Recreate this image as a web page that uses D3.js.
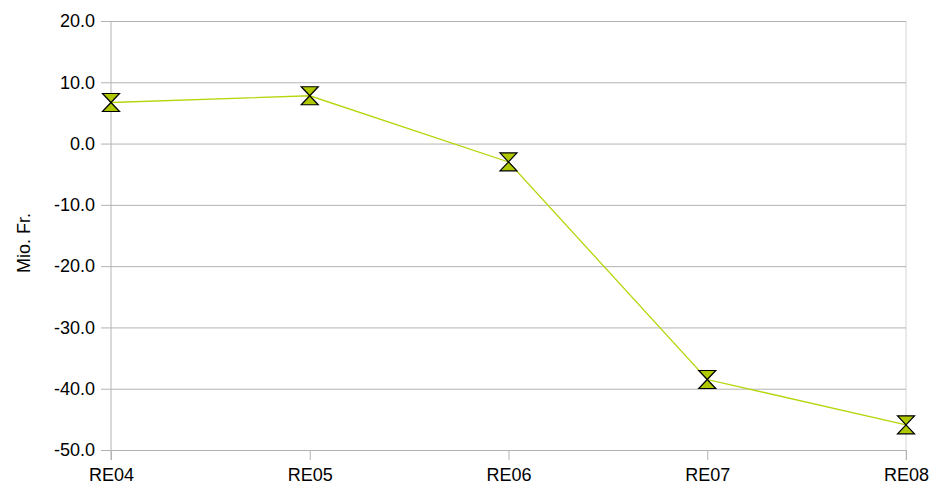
<!DOCTYPE html>
<html>
<head>
<meta charset="utf-8">
<script src="https://cdn.jsdelivr.net/npm/d3@7"></script>
<style>
  html, body { margin: 0; padding: 0; background: #fff; }
  svg { display: block; font-family: "Liberation Sans", Arial, sans-serif; }
</style>
</head>
<body>
<svg id="chart" width="930" height="486"></svg>
<script>
// Annual results by budget year
const categories = ["RE04", "RE05", "RE06", "RE07", "RE08"];
const values = [6.7, 7.8, -3.0, -38.5, -45.9];
const yTicks = [20, 10, 0, -10, -20, -30, -40, -50];
const yTitle = "Mio. Fr.";

const svg = d3.select("#chart");
const margin = { left: 111, right: 24, top: 21, bottom: 36 };
const W = 930, H = 486;

const x = d3.scalePoint().domain(categories).range([margin.left, W - margin.right]).padding(0);
const y = d3.scaleLinear().domain([-50, 20]).range([H - margin.bottom, margin.top]);

const gridColor = "#b3b3b3";
// plain hyphen for negatives, one decimal
const fmt = d => d.toFixed(1);

// right edge line
svg.append("line")
  .attr("x1", W - margin.right).attr("x2", W - margin.right)
  .attr("y1", y(20)).attr("y2", y(-50) + 10)
  .attr("stroke", "#d4d4d4");

// horizontal gridlines with short ticks left of the axis
const yAxis = d3.axisLeft(y).tickValues(yTicks).tickFormat(fmt)
  .tickSize(-(W - margin.right - margin.left)).tickPadding(6);
const gy = svg.append("g").attr("transform", `translate(${margin.left},0)`).call(yAxis);
gy.select(".domain").remove();
gy.selectAll(".tick line").attr("stroke", gridColor).attr("x1", -10);
gy.selectAll(".tick text").attr("font-size", 18).attr("fill", "#000").attr("x", -16);

// vertical axis line
svg.append("line")
  .attr("x1", margin.left).attr("x2", margin.left)
  .attr("y1", y(20)).attr("y2", y(-50) + 10)
  .attr("stroke", gridColor);

// category ticks and labels
const xAxis = d3.axisBottom(x).tickSize(10).tickPadding(6);
const gx = svg.append("g").attr("transform", `translate(0,${y(-50)})`).call(xAxis);
gx.select(".domain").remove();
gx.selectAll(".tick line").attr("stroke", gridColor);
gx.selectAll(".tick text").attr("font-size", 18).attr("fill", "#000").attr("y", 31).attr("dy", 0);

// axis title
svg.append("text")
  .attr("transform", `translate(30,243) rotate(-90)`)
  .attr("text-anchor", "middle")
  .attr("font-size", 18)
  .attr("fill", "#000")
  .text(yTitle);

// series line
const line = d3.line().x((d, i) => x(categories[i])).y(d => y(d));
svg.append("path")
  .datum(values)
  .attr("d", line)
  .attr("fill", "none")
  .attr("stroke", "#b8d40a")
  .attr("stroke-width", 1.3);

// hourglass markers
const hw = 8.5, hh = 9;
const hourglass = `M${-hw},${-hh} L${hw},${-hh} L${-hw},${hh} L${hw},${hh} Z`;
svg.append("g").selectAll("path")
  .data(values)
  .join("path")
  .attr("transform", (d, i) => `translate(${x(categories[i])},${y(d)})`)
  .attr("d", hourglass)
  .attr("fill", "#b0c800")
  .attr("stroke", "#000")
  .attr("stroke-width", 1.2)
  .attr("stroke-linejoin", "miter");
</script>
</body>
</html>
